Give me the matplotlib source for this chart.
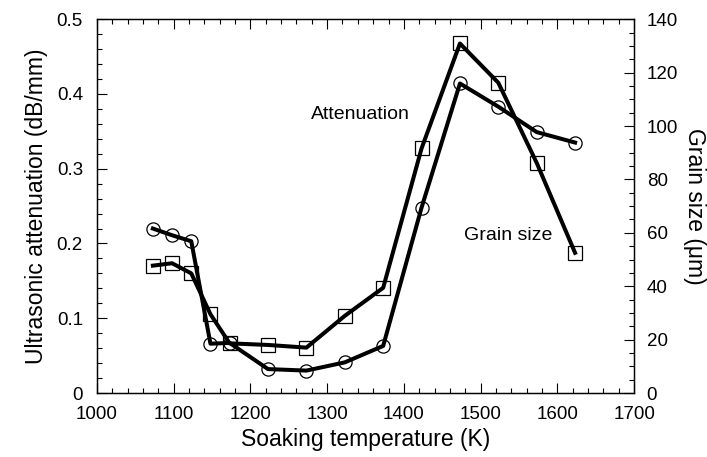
import matplotlib.pyplot as plt
from matplotlib.ticker import MultipleLocator

plt.rcParams['font.family'] = ['Liberation Sans', 'DejaVu Sans']

# soaking temperatures (K)
temps = [1073, 1098, 1123, 1148, 1173, 1223, 1273, 1323, 1373, 1423, 1473, 1523, 1573, 1623]
# ultrasonic attenuation (dB/mm), circles, left axis
attenuation = [0.220, 0.211, 0.203, 0.066, 0.067, 0.032, 0.030, 0.041, 0.063, 0.248, 0.414, 0.383, 0.349, 0.335]
# grain size (um), squares, right axis
grain_size = [47.7, 48.6, 44.8, 29.5, 18.6, 18.0, 17.0, 28.9, 39.4, 91.6, 130.9, 116.2, 86.2, 52.5]

fig = plt.figure(figsize=(7.07, 4.57), dpi=100)
ax = fig.add_axes([0.137, 0.140, 0.760, 0.818])
ax2 = ax.twinx()

ax.plot(temps, attenuation, color='black', linewidth=2.9, marker='o', markersize=9.5,
        fillstyle='none', markeredgewidth=0.9, markeredgecolor='black')
ax2.plot(temps, grain_size, color='black', linewidth=2.9, marker='s', markersize=9.5,
         fillstyle='none', markeredgewidth=0.9, markeredgecolor='black')

ax.set_xlim(1000, 1700)
ax.set_ylim(0, 0.5)
ax2.set_ylim(0, 140)

ax.xaxis.set_major_locator(MultipleLocator(100))
ax.xaxis.set_minor_locator(MultipleLocator(20))
ax.yaxis.set_major_locator(MultipleLocator(0.1))
ax.yaxis.set_minor_locator(MultipleLocator(0.02))
ax2.yaxis.set_major_locator(MultipleLocator(20))
ax2.yaxis.set_minor_locator(MultipleLocator(5))
ax.yaxis.set_major_formatter(plt.FuncFormatter(lambda v, p: '0' if abs(v) < 1e-9 else f'{v:.1f}'))

ax.tick_params(axis='x', which='both', direction='in', top=True, labelsize=13.5, pad=9)
ax.tick_params(axis='y', which='both', direction='in', right=False, labelsize=13.5, pad=10)
ax2.tick_params(axis='y', which='both', direction='in', labelsize=13.5, pad=9)
for a in (ax, ax2):
    a.tick_params(which='major', length=7, width=0.8)
    a.tick_params(which='minor', length=3.5, width=0.8)
    for s in a.spines.values():
        s.set_linewidth(0.9)

ax.set_xlabel('Soaking temperature (K)', fontsize=16.5, labelpad=4)
ax.set_ylabel('Ultrasonic attenuation (dB/mm)', fontsize=16.5, labelpad=6)
ax2.set_ylabel('Grain size (\u03bcm)', fontsize=16.5, rotation=270, labelpad=20)

ax.text(1343, 0.373, 'Attenuation', fontsize=14, ha='center', va='center')
ax.text(1536, 0.211, 'Grain size', fontsize=14, ha='center', va='center')

plt.savefig('out.png', dpi=100)
plt.close()
